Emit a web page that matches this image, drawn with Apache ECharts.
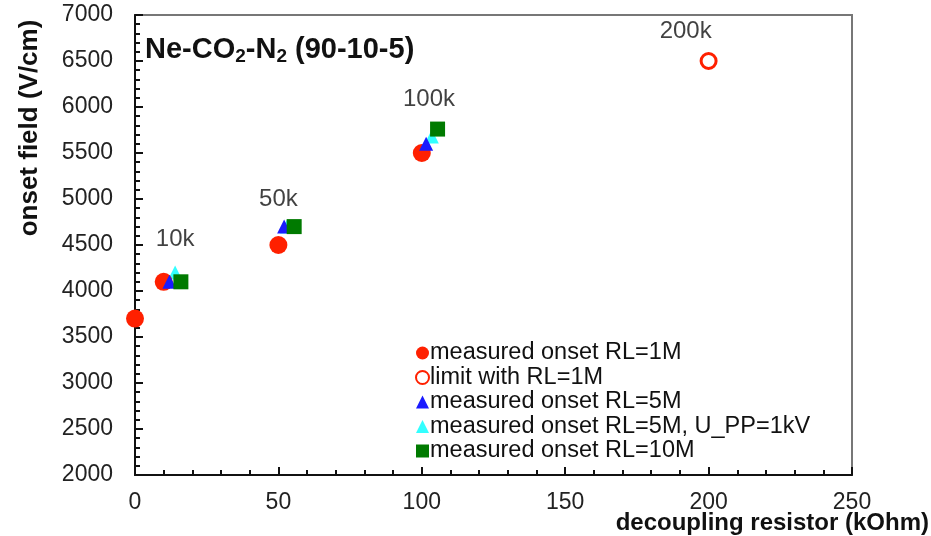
<!DOCTYPE html>
<html><head><meta charset="utf-8">
<script src="https://cdn.jsdelivr.net/npm/echarts@6/dist/echarts.min.js"></script>
<style>html,body{margin:0;padding:0;background:#fff}#c{width:931px;height:536px}</style>
</head><body><div id="c"></div>
<script>
const seriesNames = ['measured onset RL=1M','limit with RL=1M','measured onset RL=5M','measured onset RL=5M, U_PP=1kV','measured onset RL=10M'];
const rl1M = [[0,3700],[10,4100],[50,4500],[100,5500]];
const limit1M = [[200,6500]];
const rl5M = [[12,4100],[52,4700],[101.5,5600]];
const rl5M1kV = [[14,4200],[53,4700],[103.5,5680]];
const rl10M = [[16,4100],[55.5,4700],[105.5,5760]];
const annotations = [['10k',14,4560],['50k',50,5000],['100k',102.5,6080],['200k',192,6820]];
const xTicks = {min:0,max:250,interval:50};
const yTicks = {min:2000,max:7000,interval:500};

const FONT = 'Liberation Sans, Arial, sans-serif';
const chart = echarts.init(document.getElementById('c'), null, {renderer:'canvas'});
chart.setOption({
  animation:false,
  backgroundColor:'#fff',
  title:{
    text:'{b|Ne-CO}{s|2}{b|-N}{s|2}{b| (90-10-5)}',
    left:140, top:28,
    textStyle:{rich:{
      b:{fontFamily:FONT,fontWeight:'bold',fontSize:29,color:'#111',lineHeight:34},
      s:{fontFamily:FONT,fontWeight:'bold',fontSize:19,color:'#111',padding:[13,0,0,0],lineHeight:34}
    }}
  },
  legend:{
    orient:'vertical', left:410, top:336,
    itemWidth:13, itemHeight:13, itemGap:0.5,
    data:seriesNames,
    textStyle:{fontFamily:FONT,fontSize:23.5,color:'#111',lineHeight:24,padding:[0,0,0,-4]}
  },
  grid:{left:135,right:79,top:15,bottom:61,show:true,borderColor:'#777',borderWidth:2,containLabel:false},
  xAxis:{
    type:'value', min:xTicks.min, max:xTicks.max, interval:xTicks.interval,
    axisLine:{show:true,onZero:false,lineStyle:{color:'#111',width:2}},
    axisTick:{show:true,inside:true,length:8,lineStyle:{color:'#111',width:2}},
    minorTick:{show:true,splitNumber:5,length:5,lineStyle:{color:'#111',width:2}},
    splitLine:{show:false},
    axisLabel:{fontFamily:FONT,fontSize:23,color:'#222',margin:16,formatter:v=>String(v)}
  },
  yAxis:{
    type:'value', min:yTicks.min, max:yTicks.max, interval:yTicks.interval,
    axisLine:{show:true,onZero:false,lineStyle:{color:'#111',width:2}},
    axisTick:{show:true,inside:true,length:8,lineStyle:{color:'#111',width:2}},
    minorTick:{show:true,splitNumber:5,length:5,lineStyle:{color:'#111',width:2}},
    splitLine:{show:false},
    axisLabel:{fontFamily:FONT,fontSize:23,color:'#222',margin:22,formatter:v=>String(v)}
  },
  graphic:[
    {type:'text',x:30,y:128,rotation:Math.PI/2,
     style:{text:'onset field (V/cm)',font:'bold 26px '+FONT,fill:'#111',textAlign:'center',textVerticalAlign:'middle',x:0,y:0}},
    {type:'text',x:0,y:0,
     style:{text:'decoupling resistor (kOhm)',font:'bold 24px '+FONT,fill:'#111',textAlign:'right',textVerticalAlign:'middle',x:929,y:523}}
  ],
  series:[
    {name:seriesNames[0],type:'scatter',data:rl1M,symbol:'circle',symbolSize:18,itemStyle:{color:'#ff2000',opacity:1},z:3},
    {name:seriesNames[1],type:'scatter',data:limit1M,symbol:'circle',symbolSize:15,itemStyle:{color:'#fff',borderColor:'#ff2000',borderWidth:3,opacity:1},z:3},
    {name:seriesNames[2],type:'scatter',data:rl5M,symbol:'triangle',symbolSize:14,itemStyle:{color:'#1a1aff',opacity:1},z:4},
    {name:seriesNames[3],type:'scatter',data:rl5M1kV,symbol:'triangle',symbolSize:14,itemStyle:{color:'#33ffff',opacity:1},z:2},
    {name:seriesNames[4],type:'scatter',data:rl10M,symbol:'rect',symbolSize:15,itemStyle:{color:'#007a00',opacity:1},z:5},
    {name:'annotations',type:'scatter',symbolSize:0,silent:true,
     data:annotations.map(a=>({value:[a[1],a[2]],name:a[0]})),
     label:{show:true,position:'inside',formatter:p=>p.name,fontFamily:FONT,fontSize:24,color:'#111'}}
  ]
});
</script></body></html>
